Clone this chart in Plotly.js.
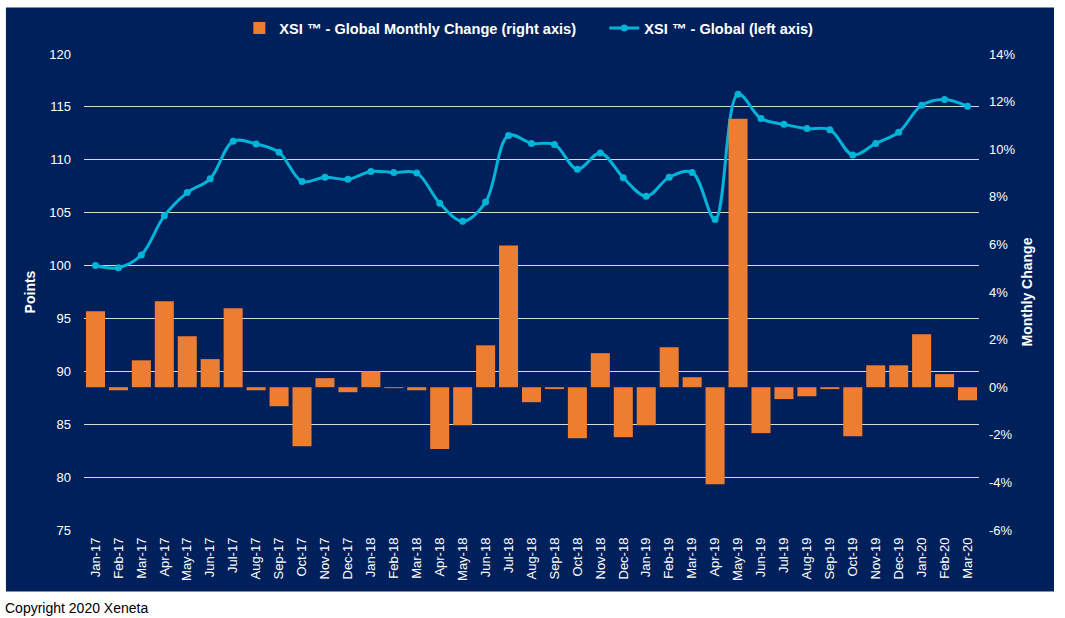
<!DOCTYPE html>
<html>
<head>
<meta charset="utf-8">
<script src="https://cdn.plot.ly/plotly-3.0.1.min.js"></script>
<style>
  html, body { margin: 0; padding: 0; background: #ffffff; }
  #chart { width: 1065px; height: 618px; }
</style>
</head>
<body>
<div id="chart"></div>
<script>
// Categories (x axis)
const months = [
  'Jan-17','Feb-17','Mar-17','Apr-17','May-17','Jun-17','Jul-17','Aug-17','Sep-17','Oct-17','Nov-17','Dec-17',
  'Jan-18','Feb-18','Mar-18','Apr-18','May-18','Jun-18','Jul-18','Aug-18','Sep-18','Oct-18','Nov-18','Dec-18',
  'Jan-19','Feb-19','Mar-19','Apr-19','May-19','Jun-19','Jul-19','Aug-19','Sep-19','Oct-19','Nov-19','Dec-19',
  'Jan-20','Feb-20','Mar-20'
];

// XSI - Global index (left axis, points)
const xsiGlobal = [
  100.0, 99.8, 101.0, 104.7, 106.9, 108.2, 111.75, 111.5, 110.7, 107.95, 108.35, 108.15,
  108.9, 108.8, 108.75, 105.9, 104.2, 106.0, 112.3, 111.55, 111.45, 109.1, 110.65, 108.3,
  106.55, 108.35, 108.8, 104.35, 116.2, 113.9, 113.35, 112.95, 112.85, 110.45, 111.55, 112.6,
  115.15, 115.7, 115.05
];

// XSI - Global monthly change (right axis, %)
const monthlyChange = [
  3.19, -0.13, 1.13, 3.61, 2.14, 1.18, 3.32, -0.13, -0.80, -2.48, 0.38, -0.21,
  0.67, -0.04, -0.13, -2.60, -1.60, 1.76, 5.95, -0.63, -0.08, -2.14, 1.43, -2.10,
  -1.60, 1.68, 0.42, -4.08, 11.28, -1.93, -0.50, -0.38, -0.08, -2.06, 0.92, 0.92,
  2.23, 0.55, -0.55
];

// Tick values
const leftTicks = [75, 80, 85, 90, 95, 100, 105, 110, 115, 120];
const rightTicks = [-6, -4, -2, 0, 2, 4, 6, 8, 10, 12, 14];

const NAVY = '#00205B';
const ORANGE = '#ED7D31';
const CYAN = '#00B4D8';
const FONT = 'Liberation Sans, Arial, sans-serif';

const traces = [
  {
    type: 'bar',
    name: 'XSI \u2122 - Global Monthly Change (right axis)',
    x: months,
    y: monthlyChange,
    yaxis: 'y2',
    legendwidth: 320,
    marker: { color: ORANGE, line: { width: 0 } }
  },
  {
    type: 'scatter',
    mode: 'lines+markers',
    name: 'XSI \u2122 - Global (left axis)',
    x: months,
    y: xsiGlobal,
    yaxis: 'y',
    line: { color: CYAN, width: 3, shape: 'spline', smoothing: 1 },
    marker: { color: CYAN, size: 7 }
  }
];

const layout = {
  width: 1065,
  height: 618,
  margin: { l: 84, r: 86, t: 54, b: 88 },
  paper_bgcolor: '#ffffff',
  plot_bgcolor: 'rgba(0,0,0,0)',
  font: { family: FONT, color: '#ffffff', size: 13 },
  bargap: 0.17,
  showlegend: true,
  legend: {
    orientation: 'h',
    x: 0.497, xanchor: 'center',
    y: 1.0546, yanchor: 'middle',
    font: { family: FONT, size: 14.6, color: '#ffffff', weight: 'bold' },
    bgcolor: 'rgba(0,0,0,0)',
    traceorder: 'normal'
  },
  xaxis: {
    type: 'category',
    range: [-0.5, months.length - 0.5],
    tickangle: -90,
    showgrid: false,
    zeroline: false,
    showline: false,
    ticks: '',
    ticklabelstandoff: 4,
    tickfont: { family: FONT, size: 13, color: '#ffffff' },
    fixedrange: true
  },
  yaxis: {
    range: [75, 120],
    tickvals: leftTicks,
    ticktext: leftTicks.map(String),
    showgrid: true,
    gridcolor: '#D9D9D9',
    gridwidth: 1,
    zeroline: false,
    showline: false,
    ticks: '',
    ticklabelstandoff: 12,
    tickfont: { family: FONT, size: 13, color: '#ffffff' },
    title: { text: 'Points', font: { family: FONT, size: 14, color: '#ffffff', weight: 'bold' }, standoff: 10 },
    fixedrange: true
  },
  yaxis2: {
    overlaying: 'y',
    side: 'right',
    range: [-6, 14],
    tickvals: rightTicks,
    ticktext: rightTicks.map(v => v + '%'),
    showgrid: false,
    zeroline: false,
    showline: false,
    ticks: '',
    ticklabelstandoff: 9,
    tickfont: { family: FONT, size: 13, color: '#ffffff' },
    title: { text: 'Monthly Change', font: { family: FONT, size: 14, color: '#ffffff', weight: 'bold' }, standoff: 7 },
    fixedrange: true
  },
  shapes: [
    {
      type: 'rect', xref: 'paper', yref: 'paper',
      x0: -0.0872, x1: 1.0838, y0: -0.129, y1: 1.0977,
      fillcolor: NAVY, line: { width: 0 }, layer: 'below'
    }
  ],
  annotations: [
    {
      text: 'Copyright 2020 Xeneta',
      xref: 'paper', yref: 'paper',
      x: -0.0905, xanchor: 'left',
      y: -0.1639, yanchor: 'middle',
      showarrow: false,
      font: { family: FONT, size: 14, color: '#000000' }
    }
  ]
};

Plotly.newPlot('chart', traces, layout, { displayModeBar: false, staticPlot: true });
</script>
</body>
</html>
